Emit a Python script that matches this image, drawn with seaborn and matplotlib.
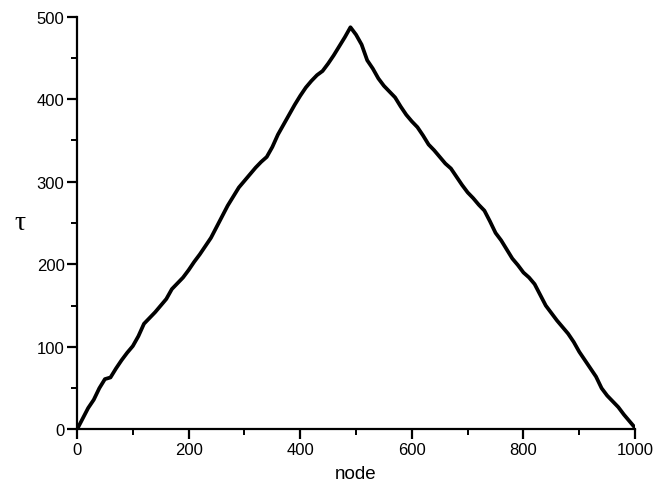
import matplotlib
matplotlib.use("Agg")
import matplotlib.pyplot as plt
from matplotlib.ticker import MultipleLocator
import seaborn as sns
import pandas as pd

# τ along the node index (sampled every 10 nodes)
nodes = list(range(0, 1001, 10))
tau = [
    0, 13, 26, 36, 50, 61, 63, 74, 84, 93,
    101, 113, 128, 135, 142, 150, 158, 170, 177, 184,
    193, 203, 212, 222, 232, 245, 258, 271, 282, 293,
    301, 309, 317, 324, 330, 342, 357, 369, 381, 393,
    404, 414, 422, 429, 434, 443, 453, 464, 475, 487,
    478, 466, 447, 437, 425, 416, 409, 402, 391, 381,
    373, 366, 356, 345, 338, 330, 322, 316, 306, 296,
    287, 280, 272, 265, 252, 238, 229, 218, 207, 199,
    190, 184, 176, 163, 150, 141, 132, 124, 116, 106,
    94, 84, 74, 64, 50, 41, 34, 27, 18, 10,
    2,
]

df = pd.DataFrame({"node": nodes, "tau": tau})

sns.set_style("ticks")
plt.rcParams["font.family"] = ["Liberation Sans", "DejaVu Sans"]
plt.rcParams["text.color"] = "black"
plt.rcParams["axes.labelcolor"] = "black"

fig = plt.figure(figsize=(6.65, 4.85), dpi=100)
ax = fig.add_axes([0.1158, 0.1124, 0.8392, 0.8515])

sns.lineplot(data=df, x="node", y="tau", color="black", linewidth=2.7,
             solid_capstyle="round", solid_joinstyle="round", ax=ax)

ax.set_xlim(0, 1000)
ax.set_ylim(0, 500)
ax.xaxis.set_major_locator(MultipleLocator(200))
ax.xaxis.set_minor_locator(MultipleLocator(100))
ax.yaxis.set_major_locator(MultipleLocator(100))
ax.yaxis.set_minor_locator(MultipleLocator(50))

for side in ("top", "right"):
    ax.spines[side].set_visible(False)
for side in ("left", "bottom"):
    ax.spines[side].set_linewidth(1.6)
    ax.spines[side].set_color("black")

ax.tick_params(which="major", direction="out", length=7, width=1.6,
               labelsize=12, colors="black", pad=2)
ax.tick_params(which="minor", direction="out", length=4, width=1.4,
               colors="black")

ax.set_xlabel("node", fontsize=13.5, labelpad=6, color="black")
ax.set_ylabel("τ", fontsize=20, rotation=0, labelpad=12, color="black",
              va="center", family=["Liberation Serif", "DejaVu Serif"])

fig.savefig("out.png", dpi=100)
